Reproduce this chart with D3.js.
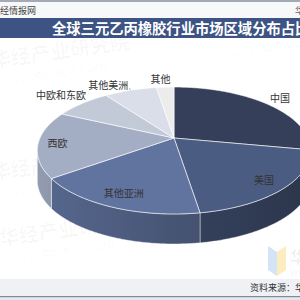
<!DOCTYPE html>
<html>
<head>
<meta charset="utf-8">
<script src="https://cdn.jsdelivr.net/npm/d3@7"></script>
<style>
  body { margin: 0; background: #fff; }
  svg { display: block; font-family: 'Noto Sans CJK SC', 'Noto Sans', sans-serif; }
</style>
</head>
<body>
<div id="chart"></div>
<script>
const categories = ['中国', '美国', '其他亚洲', '西欧', '中欧和东欧', '其他美洲', '其他'];
const shares = [28, 19.5, 17.5, 17, 8, 7.5, 2.5];
const colors = ['#353f59', '#4b5c82', '#6174a0', '#a3adc3', '#c2c9d7', '#d9dee8', '#ececec'];
const titleText = '全球三元乙丙橡胶行业市场区域分布占比';
const sourceText = '资料来源：华经产业研究院整理';

// label placement: radius factor and angle tweak (deg)
const labelLayout = [
  { r: 1.18, da: 0 },
  { r: 0.85, da: 0 },
  { r: 0.83, da: 0 },
  { r: 0.86, da: 0 },
  { r: 1.27, da: 0 },
  { r: 1.2, da: -7 },
  { r: 1.18, da: -1.5 }
];

const W = 300, H = 300;
const cx = 174, cy = 138, rx = 134, ry = 61, persp = -0.197, depth = 30;

const svg = d3.select('#chart').append('svg')
  .attr('width', W).attr('height', H);

// perspective projection of a point on the disc
function proj(phi, r, z) {
  const u = r * Math.cos(phi), v = r * Math.sin(phi);
  const w = 1 + persp * v;
  return [cx + rx * u / w, cy + ry * v / w + (z || 0)];
}

// header
svg.append('rect').attr('x', 0).attr('y', 0).attr('width', W).attr('height', 2).attr('fill', '#a4aab4');
svg.append('rect').attr('x', 0).attr('y', 2).attr('width', W).attr('height', 16).attr('fill', '#f7f8fa');
svg.append('text').attr('x', -9).attr('y', 13.5).attr('font-size', '9px').attr('fill', '#444').text('华经情报网');
svg.append('text').attr('x', 295).attr('y', 13.5).attr('font-size', '9px').attr('fill', '#666').text('华');
svg.append('rect').attr('x', 0).attr('y', 18).attr('width', W).attr('height', 20).attr('fill', '#3c5384');
svg.append('text').attr('x', 52).attr('y', 28.5).attr('dy', '0.35em')
  .attr('font-size', '14.3px').attr('font-weight', 'bold').attr('fill', '#fff').text(titleText);

// watermarks
const wm = svg.append('g').attr('fill', '#000').attr('fill-opacity', 0.03).attr('font-weight', 'bold');
[[-8, 68], [-8, 180], [0, 246]].forEach(p => {
  wm.append('text').attr('x', p[0]).attr('y', p[1]).attr('font-size', '20px')
    .attr('transform', `rotate(-8,${p[0]},${p[1]})`).text('华经产业研究院');
  wm.append('text').attr('x', p[0] + 4).attr('y', p[1] + 18).attr('font-size', '14px').attr('font-weight', 'normal')
    .attr('transform', `rotate(-8,${p[0]},${p[1]})`).text('www.huaon.com');
});
svg.append('text').attr('x', 205).attr('y', 60).attr('font-size', '14px').attr('fill', '#000')
  .attr('fill-opacity', 0.03).attr('transform', 'rotate(-8,205,60)').text('www.huaon.com');

// logo watermark
svg.append('path').attr('d', 'M268,246 L277,252 L277,276 L268,270 Z').attr('fill', '#c9dcf3').attr('opacity', 0.8);
svg.append('path').attr('d', 'M286,246 L277,252 L277,276 L286,270 Z').attr('fill', '#fbe7b0').attr('opacity', 0.8);
svg.append('text').attr('x', 290).attr('y', 263).attr('font-size', '16px').attr('fill', '#000')
  .attr('fill-opacity', 0.07).attr('font-weight', 'bold').text('华经');
svg.append('text').attr('x', 290).attr('y', 276).attr('font-size', '10px').attr('fill', '#000')
  .attr('fill-opacity', 0.07).text('www');

// pie layout
const pie = d3.pie().sort(null).value(d => d);
const arcs = pie(shares).map((d, i) => ({
  a0: d.startAngle - Math.PI / 2,
  a1: d.endAngle - Math.PI / 2,
  i: i
}));

// find visible front range (right-most to left-most silhouette)
let phiR = 0, phiL = Math.PI, maxX = -1e9, minX = 1e9;
for (let p = -Math.PI / 2; p <= Math.PI * 1.5; p += 0.002) {
  const x = proj(p, 1)[0];
  if (x > maxX) { maxX = x; phiR = p; }
  if (x < minX) { minX = x; phiL = p; }
}

// side shading gets darker from left to right
const shade = d3.scaleLinear().domain([minX, maxX]).range([0.3, 1.5]);

function arcPoints(a0, a1, z) {
  const n = Math.max(2, Math.ceil((a1 - a0) / 0.01));
  return d3.range(n + 1).map(k => proj(a0 + (a1 - a0) * k / n, 1, z));
}

const defs = svg.append('defs');
const sides = svg.append('g');
const tops = svg.append('g');

arcs.forEach(d => {
  const s0 = Math.max(d.a0, phiR), s1 = Math.min(d.a1, phiL);
  if (s1 <= s0) return;
  const topPts = arcPoints(s0, s1, 0);
  const botPts = arcPoints(s0, s1, depth).reverse();
  const base = d3.color(colors[d.i]);
  const xl = topPts[topPts.length - 1][0], xr = topPts[0][0];
  const g = defs.append('linearGradient').attr('id', 'side' + d.i)
    .attr('gradientUnits', 'userSpaceOnUse')
    .attr('x1', xl).attr('x2', xr).attr('y1', 0).attr('y2', 0);
  g.append('stop').attr('offset', 0).attr('stop-color', base.darker(shade(xl)));
  g.append('stop').attr('offset', 1).attr('stop-color', base.darker(shade(xr)));
  sides.append('path')
    .attr('d', d3.line()(topPts.concat(botPts)) + 'Z')
    .attr('fill', `url(#side${d.i})`)
    .attr('stroke', '#fff').attr('stroke-opacity', 0.6).attr('stroke-width', 0.7);
});

arcs.forEach(d => {
  const pts = [proj(0, 0)].concat(arcPoints(d.a0, d.a1, 0));
  tops.append('path')
    .attr('d', d3.line()(pts) + 'Z')
    .attr('fill', colors[d.i])
    .attr('stroke', '#fff').attr('stroke-opacity', 0.75).attr('stroke-width', 0.8);
});

// labels
const labels = svg.append('g').attr('font-size', '10px').attr('fill', '#333').attr('text-anchor', 'middle');
arcs.forEach(d => {
  const lay = labelLayout[d.i];
  const mid = (d.a0 + d.a1) / 2 + lay.da * Math.PI / 180;
  const p = proj(mid, lay.r);
  labels.append('text').attr('x', p[0]).attr('y', p[1]).attr('dy', '0.35em').text(categories[d.i]);
  if (d.i === 5) {
    const e = proj((d.a0 + d.a1) / 2, 1);
    svg.append('line').attr('x1', p[0] + 21).attr('y1', p[1] + 3).attr('x2', e[0]).attr('y2', e[1])
      .attr('stroke', '#888').attr('stroke-width', 0.7);
  }
});

// footer
svg.append('rect').attr('x', 0).attr('y', 279).attr('width', W).attr('height', 17).attr('fill', '#eff1f5');
svg.append('rect').attr('x', 0).attr('y', 296).attr('width', W).attr('height', 1.5).attr('fill', '#7f8999');
svg.append('rect').attr('x', 0).attr('y', 297.5).attr('width', W).attr('height', 2.5).attr('fill', '#e4e7ec');
svg.append('text').attr('x', 250).attr('y', 288).attr('dy', '0.35em').attr('font-size', '9px')
  .attr('fill', '#333').text(sourceText);
</script>
</body>
</html>
